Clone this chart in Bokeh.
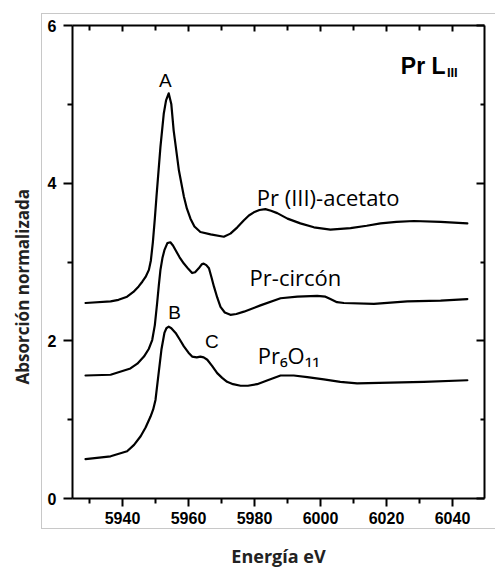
from bokeh.plotting import figure
from bokeh.models import Range1d, FixedTicker, LinearAxis, Label, Title, InlineStyleSheet
from bokeh.embed import file_html
from bokeh.resources import INLINE

# ---- data ----
energy_acetato = [5928.8, 5936.4, 5938.8, 5941.4, 5943.3, 5944.9, 5946.0, 5947.0, 5948.0, 5948.6,
                  5949.2, 5949.8, 5950.3, 5951.5, 5952.5, 5953.2, 5954.0, 5954.8, 5955.5, 5957.1,
                  5958.6, 5959.5, 5960.6, 5961.8, 5963.6, 5966.7, 5970.7, 5972.7, 5974.8, 5976.8,
                  5978.3, 5979.8, 5981.5, 5983.3, 5985.0, 5986.9, 5990.0, 5993.9, 5998.0, 6003.0,
                  6009.1, 6014.0, 6018.2, 6023.0, 6028.3, 6036.4, 6044.5]
abs_acetato = [2.48, 2.50, 2.52, 2.56, 2.62, 2.69, 2.75, 2.81, 2.90, 3.02,
               3.25, 3.55, 3.83, 4.46, 4.88, 5.05, 5.14, 5.00, 4.67, 4.16,
               3.83, 3.68, 3.55, 3.45, 3.38, 3.35, 3.32, 3.36, 3.44, 3.53,
               3.59, 3.63, 3.66, 3.67, 3.65, 3.62, 3.55, 3.49, 3.44, 3.41,
               3.43, 3.46, 3.49, 3.51, 3.52, 3.51, 3.49]

energy_circon = [5928.8, 5936.4, 5942.4, 5944.5, 5946.5, 5948.0, 5949.0, 5949.8, 5950.5, 5951.0,
                 5951.5, 5952.1, 5952.7, 5953.6, 5954.5, 5955.3, 5956.1, 5957.3, 5958.6, 5960.0,
                 5961.1, 5962.0, 5963.1, 5964.0, 5964.6, 5965.4, 5966.2, 5967.0, 5967.7, 5968.7,
                 5969.7, 5971.0, 5972.7, 5974.5, 5976.8, 5981.8, 5987.9, 5993.0, 5999.0, 6001.5,
                 6003.0, 6005.0, 6007.1, 6016.2, 6026.3, 6036.4, 6044.5]
abs_circon = [1.56, 1.57, 1.65, 1.71, 1.80, 1.90, 2.01, 2.20, 2.48, 2.70,
              2.90, 3.05, 3.15, 3.24, 3.25, 3.21, 3.15, 3.06, 2.98, 2.91,
              2.86, 2.87, 2.92, 2.97, 2.98, 2.96, 2.92, 2.80, 2.69, 2.55,
              2.43, 2.36, 2.33, 2.34, 2.37, 2.45, 2.54, 2.56, 2.57, 2.56,
              2.53, 2.49, 2.48, 2.47, 2.50, 2.51, 2.53]

energy_pr6o11 = [5928.8, 5936.4, 5941.4, 5943.5, 5945.5, 5947.0, 5948.5, 5949.3, 5950.0, 5950.9,
                 5951.8, 5952.7, 5953.3, 5954.0, 5954.8, 5956.1, 5957.3, 5958.6, 5960.0, 5961.1,
                 5962.5, 5963.6, 5964.6, 5965.7, 5967.2, 5968.7, 5970.2, 5971.7, 5973.5, 5975.8,
                 5978.0, 5980.8, 5984.0, 5987.9, 5991.9, 5996.0, 6001.0, 6006.0, 6011.1, 6021.2,
                 6031.3, 6044.5]
abs_pr6o11 = [0.50, 0.535, 0.60, 0.68, 0.79, 0.90, 1.04, 1.13, 1.25, 1.57,
              1.89, 2.10, 2.16, 2.18, 2.16, 2.10, 2.02, 1.93, 1.85, 1.80,
              1.79, 1.80, 1.79, 1.76, 1.68, 1.59, 1.53, 1.48, 1.45, 1.43,
              1.43, 1.45, 1.50, 1.56, 1.56, 1.54, 1.51, 1.48, 1.46, 1.47,
              1.48, 1.50]

x_major_ticks = [5940, 5960, 5980, 6000, 6020, 6040]
x_minor_ticks = [5930, 5950, 5970, 5990, 6010, 6030]
y_major_ticks = [0, 2, 4, 6]
y_minor_ticks = [1, 3, 5]

series_names = ["Pr (III)-acetato", "Pr-circón", "Pr\u2086O\u2081\u2081"]
peak_names = ["A", "B", "C"]

# ---- figure ----
p = figure(width=495, height=570, output_backend="svg", toolbar_location=None,
           x_range=Range1d(5924.85, 6049.7), y_range=Range1d(0, 6),
           min_border_left=72, min_border_right=11, min_border_top=25, min_border_bottom=71,
           background_fill_color="white", border_fill_color="white")
p.xgrid.visible = False
p.ygrid.visible = False
p.outline_line_color = None

# light-gray outer box around the whole graphic (decorative frame of the reference)
p.stylesheets = [InlineStyleSheet(css=""":host::after {
  content: ""; position: absolute; left: 41px; top: 13px; width: 453px; height: 514px;
  border-top: 1px solid #c8c8c8; border-left: 1px solid #c8c8c8; border-bottom: 1px solid #c8c8c8;
  pointer-events: none; box-sizing: content-box; }""")]

xt = FixedTicker(ticks=x_major_ticks, minor_ticks=x_minor_ticks)
yt = FixedTicker(ticks=y_major_ticks, minor_ticks=y_minor_ticks)

def style_axis(ax):
    ax.axis_line_width = 2
    ax.axis_line_color = "black"
    ax.major_tick_line_width = 2
    ax.minor_tick_line_width = 2
    ax.major_tick_line_color = "black"
    ax.minor_tick_line_color = "black"
    ax.major_label_text_font = "Liberation Sans"
    ax.major_label_text_font_style = "bold"
    ax.major_label_text_font_size = "16px"
    ax.major_label_text_color = "black"

xa = p.xaxis[0]
xa.ticker = xt
style_axis(xa)
xa.major_tick_out = 8
xa.major_tick_in = 0
xa.minor_tick_out = 5
xa.minor_tick_in = 0
xa.major_label_standoff = 5
xa.axis_label = "Energía eV"
xa.axis_label_text_font = "Open Sans"
xa.axis_label_text_font_style = "bold"
xa.axis_label_text_font_size = "18px"
xa.axis_label_text_color = "#222222"
xa.axis_label_standoff = 17

ya = p.yaxis[0]
ya.ticker = yt
style_axis(ya)
ya.major_tick_out = 9
ya.major_tick_in = 0
ya.minor_tick_out = 5
ya.minor_tick_in = 0
ya.major_label_standoff = 7

top_axis = LinearAxis(ticker=FixedTicker(ticks=x_major_ticks, minor_ticks=x_minor_ticks),
                      major_label_overrides={t: "" for t in x_major_ticks})
style_axis(top_axis)
top_axis.major_tick_in = 6
top_axis.major_tick_out = 0
top_axis.minor_tick_in = 5
top_axis.minor_tick_out = 0
p.add_layout(top_axis, "above")

right_axis = LinearAxis(ticker=FixedTicker(ticks=y_major_ticks, minor_ticks=y_minor_ticks),
                        major_label_overrides={t: "" for t in y_major_ticks})
style_axis(right_axis)
right_axis.major_tick_in = 8
right_axis.major_tick_out = 0
right_axis.minor_tick_in = 4
right_axis.minor_tick_out = 0
p.add_layout(right_axis, "right")

# y-axis title as a side title (start of the text placed 114 px above the frame bottom)
ytitle = Title(text="Absorción normalizada", align="left", offset=114, vertical_align="top",
               text_font="Open Sans", text_font_style="bold", text_font_size="17px",
               text_color="#222222", standoff=18)
p.add_layout(ytitle, "left")

# ---- curves ----
for xs, ys in [(energy_acetato, abs_acetato), (energy_circon, abs_circon), (energy_pr6o11, abs_pr6o11)]:
    p.line(xs, ys, line_color="black", line_width=2.2, line_join="round", line_cap="round")

# ---- texts ----
def add_label(x, y, text, font, size, style="normal", align="left", baseline="alphabetic", color="black"):
    p.add_layout(Label(x=x, y=y, text=text, text_font=font, text_font_size=size,
                       text_font_style=style, text_align=align, text_baseline=baseline,
                       text_color=color))

# series names
add_label(6002.3, 3.82, series_names[0], "Open Sans", "22px", align="center")
add_label(5992.4, 2.81, series_names[1], "Open Sans", "22px", align="center")
add_label(5990.4, 1.82, series_names[2], "Open Sans", "22px", align="center")

# peak letters
add_label(5953.0, 5.30, peak_names[0], "Liberation Sans", "19px", align="center")
add_label(5955.8, 2.36, peak_names[1], "Liberation Sans", "19px", align="center")
add_label(5967.1, 1.99, peak_names[2], "Liberation Sans", "19px", align="center")

# edge label Pr L_III
add_label(6037.9, 5.49, "Pr L", "Liberation Sans", "23px", style="bold", align="right")
add_label(6038.3, 5.40, "III", "Liberation Sans", "13px", style="bold", align="left")

open("out.html", "w").write(file_html(p, INLINE))
